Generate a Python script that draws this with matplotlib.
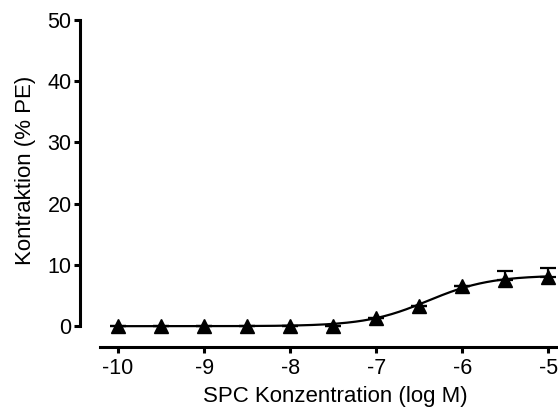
import numpy as np
import matplotlib
matplotlib.use("Agg")
import matplotlib.pyplot as plt

plt.rcParams['font.family'] = ['Liberation Sans', 'DejaVu Sans']
plt.rcParams['axes.unicode_minus'] = False

# mean response per concentration
log_conc = [-10, -9.5, -9, -8.5, -8, -7.5, -7, -6.5, -6, -5.5, -5]
kontraktion = [0.0, 0.0, 0.0, 0.0, 0.0, 0.1, 1.3, 3.3, 6.5, 7.6, 8.1]
sem_upper = [0, 0, 0, 0, 0, 0, 0, 0, 0, 1.4, 1.4]
sem_lower = [0] * len(log_conc)

# sigmoidal fit parameters (Hill)
fit_bottom = 0.0
fit_top = 8.3
fit_logec50 = -6.4
fit_hill = 1.2

xticks = [-10, -9, -8, -7, -6, -5]
yticks = [0, 10, 20, 30, 40, 50]

fig = plt.figure(figsize=(5.58, 4.09), dpi=100)
ax = fig.add_axes([100/558, 62/409, 470/558, 327/409])

xf = np.linspace(-10, -5, 300)
yf = fit_bottom + (fit_top - fit_bottom) / (1 + 10 ** ((fit_logec50 - xf) * fit_hill))
ax.plot(xf, yf, color="black", lw=1.6, zorder=2)
ax.errorbar(log_conc, kontraktion, yerr=[sem_lower, sem_upper], fmt="^", color="black",
            ms=9.5, capsize=6, elinewidth=1.6, capthick=1.6, zorder=3)

ax.set_xlim(-10.21, -4.75)
ax.set_ylim(-3.4, 50)
ax.set_xticks(xticks)
ax.set_yticks(yticks)
ax.spines['top'].set_visible(False)
ax.spines['right'].set_visible(False)
ax.spines['left'].set_position(('outward', 14.4))
ax.spines['left'].set_bounds(0, 50)
for s in ['left', 'bottom']:
    ax.spines[s].set_linewidth(2.2)
ax.tick_params(width=2.2, length=4, labelsize=15.5, pad=2)
ax.tick_params(axis='x', pad=4)
ax.set_xlabel("SPC Konzentration (log M)", fontsize=16, labelpad=5)
ax.set_ylabel("Kontraktion (% PE)", fontsize=16)
ax.yaxis.set_label_coords(-0.137, 0.54)

fig.savefig("out.png", dpi=100)
